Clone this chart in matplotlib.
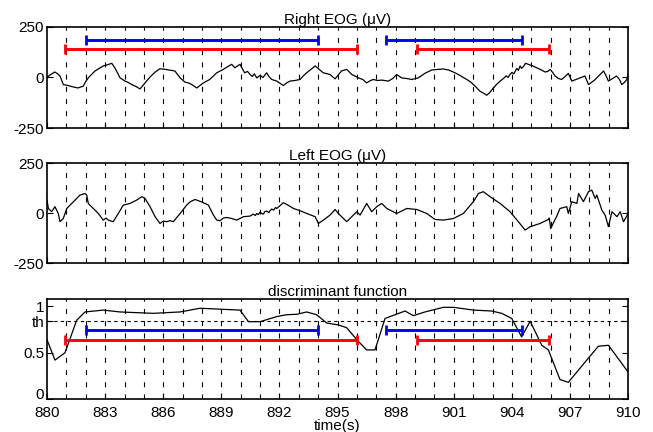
import numpy as np
import matplotlib
matplotlib.use("Agg")
import matplotlib.pyplot as plt

plt.rcParams['font.family'] = ['Liberation Sans', 'DejaVu Sans']
plt.rcParams['font.size'] = 11

# Right EOG (uV)
right_t = [880.0, 880.15, 880.4, 880.55, 880.67, 880.84, 881.0, 881.19, 881.4, 881.6, 881.75, 881.87,
           882.0, 882.13, 882.3, 882.48, 882.7, 882.9, 883.1, 883.34, 883.5, 883.77, 884.03, 884.2,
           884.37, 884.6, 884.8, 885.06, 885.25, 885.4, 885.6, 885.83, 886.1, 886.35, 886.6, 886.87,
           887.12, 887.3, 887.47, 887.73, 888.07, 888.4, 888.6, 888.76, 889.1, 889.3, 889.53, 889.7,
           889.96, 890.2, 890.35, 890.48, 890.6, 890.7, 890.83, 891.0, 891.15, 891.34, 891.45, 891.6,
           891.86, 892.2, 892.4, 892.55, 892.8, 893.06, 893.2, 893.4, 893.6, 893.84, 894.05, 894.26,
           894.6, 894.87, 895.2, 895.47, 895.73, 896.07, 896.3, 896.5, 896.7, 896.85, 897.05, 897.28,
           897.62, 897.85, 898.05, 898.3, 898.55, 898.83, 899.17, 899.5, 899.86, 900.2, 900.45, 900.72,
           900.95, 901.23, 901.45, 901.67, 901.9, 902.1, 902.35, 902.52, 902.7, 902.85, 903.04, 903.2,
           903.39, 903.6, 903.7, 903.8, 903.9, 904.0, 904.1, 904.25, 904.33, 904.42, 904.5, 904.6,
           904.7, 904.85, 905.05, 905.28, 905.5, 905.71,
           905.85, 905.97, 906.1, 906.23, 906.4, 906.57, 906.75, 906.91, 907.09, 907.3, 907.52, 907.77,
           907.95, 908.1, 908.3, 908.5, 908.73, 908.85, 908.98, 909.2, 909.4, 909.55, 909.67, 909.8,
           909.93, 910.0]
right_v = [0, 12, 27, 18, 7, -35, -38, -43, -48, -52, -47, -43,
           -20, -2, 15, 32, 45, 57, 62, 70, 48, -2, -18, -25,
           -35, -45, -57, -27, -5, 10, 28, 43, 40, 36, 32, -2,
           -23, -27, -35, -52, -27, -10, 8, 23, 40, 52, 65, 48,
           65, 23, 30, 15, 5, 18, -2, 10, 0, 23, 5, -10,
           -18, -40, -25, -18, -15, -10, 5, 23, 38, 57, 40, 23,
           15, -7, 32, 40, 15, -2, -10, -27, -15, -10, -15, -13,
           -18, -5, 15, -2, -5, -10, -2, 20, 37, 40, 42, 37,
           28, 15, 2, -10, -25, -43, -68, -77, -88, -75, -52, -35,
           -18, -2, 8, 0, 15, 25, 18, 45, 35, 57, 45, 55,
           70, 65, 58, 48, 38, 27,
           30, 40, 25, 7, -5, -10, 5, 20, -18, -10, -2, 7,
           -35, -25, -10, 10, 32, 10, -18, -5, 7, -10, -35, -25,
           -10, 15]

# Left EOG (uV)
left_t = [880.0, 880.07, 880.24, 880.41, 880.58, 880.67, 880.84, 881.02, 881.19, 881.45, 881.7, 881.96,
          882.05, 882.13, 882.39, 882.65, 882.9, 883.05, 883.16, 883.42, 883.68, 883.94, 884.28, 884.63,
          884.89, 885.06, 885.32, 885.58, 885.83, 886.0, 886.18, 886.35, 886.52, 886.87, 887.21, 887.4,
          887.64, 888.0, 888.33, 888.59, 888.76, 888.93, 889.1, 889.28, 889.53, 889.79, 890.14, 890.48,
          890.65, 890.75, 890.83, 890.9, 891.0, 891.1, 891.17, 891.25, 891.35, 891.45, 891.51, 891.6,
          891.7, 891.8, 891.86, 892.2, 892.38, 892.72, 893.06,
          893.41, 893.84, 894.01, 894.27, 894.61, 894.87, 895.04, 895.47, 895.99, 896.16, 896.5, 896.76,
          897.02, 897.28, 897.54, 898.05, 898.57, 899.09, 899.6, 900.03, 900.46, 900.98, 901.49, 902.01,
          902.27, 902.52, 902.87, 903.39, 903.9, 904.33, 904.68, 904.94, 905.45, 905.88, 905.93, 906.0,
          906.3, 906.48, 906.83, 906.91, 907.09, 907.35, 907.44, 907.69, 907.95, 908.12, 908.3, 908.38,
          908.64, 908.81, 908.98, 909.16, 909.42, 909.59, 909.76, 910.0]
left_v = [65, 23, 7, 32, -2, -43, -27, 23, 40, 65, 90, 98,
          90, 48, 23, -2, -35, -25, -35, -43, -2, 40, 48, 65,
          82, 73, 32, -18, -52, -40, -43, -38, -43, -2, 40, 57,
          68, 55, 40, -10, -35, -38, -25, -22, -27, -35, -18, -15,
          -5, -12, -2, -8, 5, -3, -5, 8, 10, 2, 12, 20,
          15, 28, 23, 52, 43, 23, 12,
          -2, -18, -52, -35, -10, 18, -2, -43, 7, -10, 48, 7,
          32, 48, 23, -2, 23, 18, -2, -32, -35, -27, -2, 57,
          98, 107, 82, 48, 7, -43, -85, -68, -52, -32, -25, -77,
          -18, 23, 32, -2, 57, 48, 98, 57, 107, 115, 73, 90,
          15, -10, -68, 7, -18, 7, -43, -2]

# discriminant function
disc_t = [880.0, 880.41, 880.93, 881.53, 881.96, 882.9, 883.77, 885.49, 886.87, 887.9, 889.96, 890.4,
          891.0, 891.86, 892.37, 892.9, 893.4, 893.92, 894.44, 895.04, 895.47, 895.99, 896.5, 896.93,
          897.45, 898.48, 898.91, 899.51, 900.46, 900.98, 902.01, 902.96, 903.47, 903.99, 904.5, 904.94,
          905.54, 905.88, 906.48, 906.91, 907.86, 908.46, 908.98, 910.0]
disc_v = [0.64, 0.42, 0.50, 0.85, 0.94, 0.96, 0.94, 0.925, 0.94, 0.98, 0.96, 0.835,
          0.835, 0.89, 0.91, 0.915, 0.94, 0.91, 0.82, 0.80, 0.77, 0.64, 0.53, 0.53,
          0.87, 0.95, 0.90, 0.94, 0.99, 0.99, 0.96, 0.95, 0.925, 0.87, 0.67, 0.84,
          0.58, 0.53, 0.21, 0.18, 0.42, 0.57, 0.58, 0.29]
th = 0.84

# detected intervals (start, end)
blue_iv = [(882.0, 894.0), (897.5, 904.5)]
red_iv = [(880.95, 896.0), (899.1, 905.9)]
eog_levels = (185, 140)   # blue, red height in the EOG panel
disc_levels = (0.74, 0.64)

xticks = np.arange(880, 911, 3)
grid_x = np.arange(881, 910)

fig = plt.figure(figsize=(6.53, 4.32), dpi=100)
ax1 = fig.add_axes([0.072, 0.7037, 0.890, 0.234])
ax2 = fig.add_axes([0.072, 0.391, 0.890, 0.2315])
ax3 = fig.add_axes([0.072, 0.0764, 0.890, 0.2315])


def draw_intervals(ax, levels):
    for (a, b) in blue_iv:
        ax.errorbar((a + b) / 2, levels[0], xerr=(b - a) / 2, fmt='none', ecolor='#0000ff',
                    elinewidth=2.1, capsize=3.6, capthick=2, zorder=4)
    for (a, b) in red_iv:
        ax.errorbar((a + b) / 2, levels[1], xerr=(b - a) / 2, fmt='none', ecolor='#ff0000',
                    elinewidth=2.1, capsize=3.6, capthick=2, zorder=4)


for ax in (ax1, ax2, ax3):
    ax.set_xlim(880, 910)
    ax.set_xticks(xticks)
    ax.tick_params(direction='in', length=4, width=0.8, top=False, right=True, labelsize=11, pad=2)
    ax.tick_params(axis='x', pad=5)
    for s in ax.spines.values():
        s.set_linewidth(1.2)
    ax.vlines(grid_x, 0, 1, transform=ax.get_xaxis_transform(), colors='black',
              linewidth=0.8, linestyles=(0, (4.5, 6.5)), zorder=1)

ax1.plot(right_t, right_v, color='black', linewidth=0.9, zorder=3)
ax1.set_ylim(-250, 250)
ax1.set_yticks([-250, 0, 250])
ax1.set_yticklabels(['-250', '0', '250'])
ax1.set_xticklabels([])
ax1.set_title('Right EOG (\u03bcV)', fontsize=11, pad=2)
draw_intervals(ax1, eog_levels)

ax2.plot(left_t, left_v, color='black', linewidth=0.9, zorder=3)
ax2.set_ylim(-250, 250)
ax2.set_yticks([-250, 0, 250])
ax2.set_yticklabels(['-250', '0', '250'])
ax2.set_xticklabels([])
ax2.set_title('Left EOG (\u03bcV)', fontsize=11, pad=2)

ax3.plot(disc_t, disc_v, color='black', linewidth=0.9, zorder=3)
ax3.axhline(th, color='black', linewidth=0.8, linestyle=(0, (3, 3)), zorder=2)
ax3.set_ylim(0, 1.08)
ax3.set_yticks([0, 0.5, th, 1])
ax3.set_yticklabels(['0', '0.5', 'th', '1'])
# the "0" sits just above the bottom edge so it clears the 880 label
ax3.get_yticklabels()[0].set_verticalalignment('baseline')
ax3.set_xticklabels([str(x) for x in xticks])
ax3.set_title('discriminant function', fontsize=11, pad=2)
ax3.set_xlabel('time(s)', fontsize=11, labelpad=-1)
draw_intervals(ax3, disc_levels)

fig.savefig('out.png', dpi=100)
